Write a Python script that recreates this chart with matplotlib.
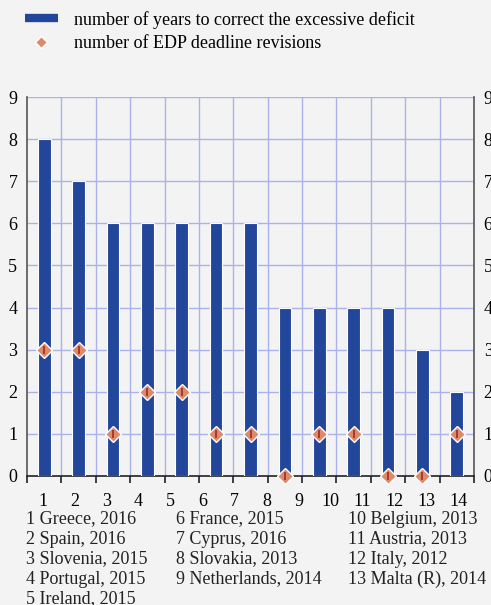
import numpy as np
import matplotlib
matplotlib.use("Agg")
import matplotlib.pyplot as plt
from matplotlib.lines import Line2D

plt.rcParams['font.family'] = ['Liberation Serif', 'DejaVu Serif']

# Data
countries = ["Greece, 2016", "Spain, 2016", "Slovenia, 2015", "Portugal, 2015",
             "Ireland, 2015", "France, 2015", "Cyprus, 2016", "Slovakia, 2013",
             "Netherlands, 2014", "Belgium, 2013", "Austria, 2013", "Italy, 2012",
             "Malta (R), 2014"]
years_to_correct = [8, 7, 6, 6, 6, 6, 6, 4, 4, 4, 4, 3, 2]
deadline_revisions = [3, 3, 1, 2, 2, 1, 1, 0, 1, 1, 0, 0, 1]
xtick_labels = [str(i) for i in range(1, 15)]
yticks = list(range(0, 10))

BLUE = '#22469a'
BG = '#f3f3f3'
GRID = '#aab2ea'
FS = 13

fig = plt.figure(figsize=(4.91, 6.05), dpi=100, facecolor=BG)
ax = fig.add_axes([27/491, 1-476/605, (474-27)/491, (476-97)/605], facecolor=BG)

x = np.arange(len(years_to_correct))
ax.bar(x, years_to_correct, width=0.37, color=BLUE, edgecolor='white', linewidth=0.8, zorder=3)
ax.plot(x, deadline_revisions, linestyle='none', marker='D', markersize=8,
        markerfacecolor='#dc8a6c', markeredgecolor='white', markeredgewidth=1.0,
        zorder=5, clip_on=False)
ax.plot(x, deadline_revisions, linestyle='none', marker='|', markersize=6,
        markeredgecolor='#a82818', markeredgewidth=1.2, zorder=6, clip_on=False)

ax.set_xlim(-0.5, len(x) - 0.5)
ax.set_ylim(0, 9)
ax.set_yticks(yticks)
ax.set_yticklabels([str(v) for v in yticks], fontsize=FS)
ax.tick_params(axis='y', length=0, pad=7, labelright=True, labelleft=True)

# vertical grid at category boundaries
bounds = np.arange(-0.5, len(x), 1.0)
for b in bounds[1:-1]:
    ax.axvline(b, color=GRID, lw=1.0, zorder=1)
for v in yticks[1:]:
    ax.axhline(v, color=GRID, lw=1.0, zorder=1)

ax.set_xticks(bounds, minor=True)
ax.tick_params(axis='x', which='minor', length=5, width=1.2, color='#222222', direction='out')
ax.set_xticks(np.linspace(-0.05, 12.05, 14))
ax.set_xticklabels(xtick_labels, fontsize=FS)
ax.tick_params(axis='x', which='major', length=0, pad=12)

ax.spines['top'].set_visible(False)
for s in ['left', 'right']:
    ax.spines[s].set_color('#555555')
    ax.spines[s].set_linewidth(1.2)
ax.spines['bottom'].set_color('#222222')
ax.spines['bottom'].set_linewidth(1.2)

# Legend
handles = [Line2D([], [], color=BLUE, lw=6, solid_capstyle='butt'),
           Line2D([], [], linestyle='none', marker='D', markersize=6,
                  markerfacecolor='#dc8a6c', markeredgecolor='white')]
fig.legend(handles, ["number of years to correct the excessive deficit",
                     "number of EDP deadline revisions"],
           loc='upper left', bbox_to_anchor=(0.028, 1.0), frameon=False,
           fontsize=FS, handlelength=1.85, handletextpad=0.9, labelspacing=0.35,
           borderaxespad=0.2)

# Country key
col_x = [26, 176, 348]
row_y = [519, 539, 559, 579, 599]
for i, name in enumerate(countries):
    if i < 9:
        col, row = i // 5, i % 5
    else:
        col, row = 2, i - 9
    fig.text(col_x[col]/491, 1-row_y[row]/605, f"{i+1} {name}", fontsize=FS,
             ha='left', va='center', color='#222222')

fig.savefig('out.png', dpi=100, facecolor=BG)
